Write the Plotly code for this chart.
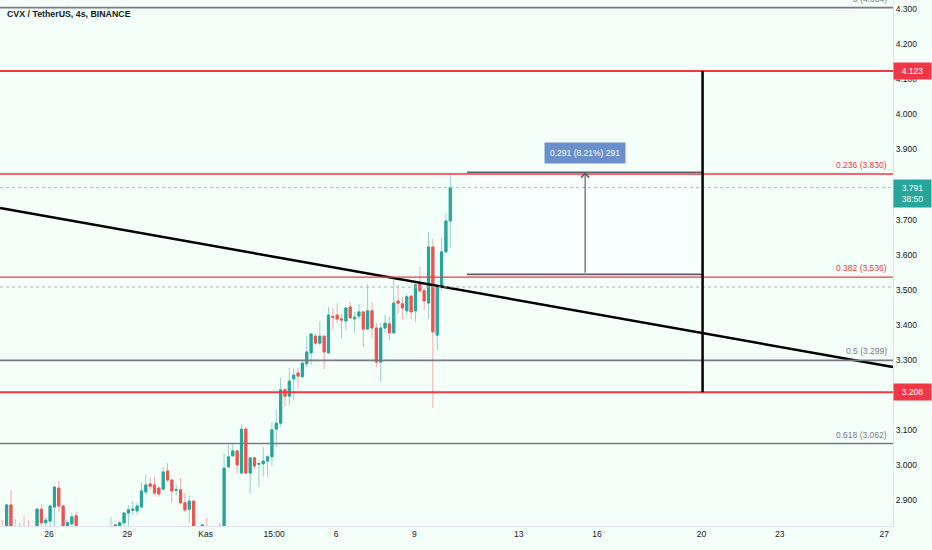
import pandas as pd
import plotly.graph_objects as go

# 4h candles, CVX/USDT
start_time = "2023-10-24 05:00"
opens = [2.82, 2.80, 2.887, 2.79, 2.81, 2.815, 2.81, 2.795, 2.80, 2.875,
         2.836, 2.841, 2.881, 2.935, 2.884, 2.827, 2.833, 2.856, 2.81, 2.79,
         2.78, 2.77, 2.785, 2.775, 2.79, 2.80, 2.815, 2.827, 2.836, 2.864,
         2.872, 2.870, 2.881, 2.924, 2.947, 2.944, 2.935, 2.932, 2.984, 2.958,
         2.929, 2.930, 2.893, 2.875, 2.898, 2.81, 2.815, 2.825, 2.81, 2.80,
         2.815, 2.805, 2.995, 3.027, 3.041, 2.978, 3.103, 2.978, 3.021, 3.003,
         3.004, 3.012, 3.024, 3.103, 3.120, 3.215, 3.197, 3.246, 3.263, 3.252,
         3.289, 3.320, 3.368, 3.348, 3.368, 3.320, 3.424, 3.428, 3.417, 3.411,
         3.451, 3.417, 3.425, 3.437, 3.388, 3.440, 3.391, 3.294, 3.391, 3.403,
         3.377, 3.468, 3.460, 3.440, 3.482, 3.440, 3.517, 3.497, 3.462, 3.622,
         3.371, 3.508, 3.608, 3.696]
highs = [2.844, 2.890, 2.930, 2.847, 2.835, 2.856, 2.844, 2.815, 2.878, 2.890,
         2.853, 2.886, 2.941, 2.955, 2.886, 2.841, 2.864, 2.867, 2.815, 2.80,
         2.795, 2.80, 2.80, 2.805, 2.815, 2.853, 2.832, 2.842, 2.867, 2.887,
         2.898, 2.893, 2.952, 2.972, 2.967, 2.967, 2.940, 2.995, 3.007, 2.960,
         2.944, 2.964, 2.921, 2.913, 2.900, 2.82, 2.832, 2.850, 2.82, 2.82,
         2.836, 3.035, 3.058, 3.064, 3.043, 3.115, 3.109, 3.023, 3.024, 3.010,
         3.052, 3.029, 3.123, 3.158, 3.249, 3.220, 3.277, 3.277, 3.277, 3.300,
         3.368, 3.377, 3.377, 3.411, 3.370, 3.451, 3.448, 3.462, 3.431, 3.451,
         3.465, 3.437, 3.460, 3.440, 3.517, 3.465, 3.405, 3.405, 3.428, 3.423,
         3.528, 3.514, 3.480, 3.488, 3.485, 3.522, 3.565, 3.505, 3.665, 3.645,
         3.514, 3.648, 3.719, 3.833]
lows = [2.79, 2.79, 2.79, 2.78, 2.79, 2.78, 2.78, 2.78, 2.79, 2.81,
        2.82, 2.82, 2.82, 2.867, 2.80, 2.81, 2.82, 2.80, 2.77, 2.76,
        2.75, 2.76, 2.76, 2.77, 2.78, 2.79, 2.80, 2.82, 2.830, 2.825,
        2.859, 2.859, 2.881, 2.915, 2.930, 2.915, 2.910, 2.930, 2.952, 2.893,
        2.915, 2.890, 2.867, 2.836, 2.80, 2.79, 2.80, 2.80, 2.79, 2.79,
        2.79, 2.80, 2.992, 3.024, 2.975, 2.975, 2.975, 2.918, 2.989, 2.938,
        2.967, 2.967, 2.999, 3.052, 3.109, 3.166, 3.172, 3.186, 3.220, 3.249,
        3.280, 3.286, 3.343, 3.343, 3.274, 3.320, 3.385, 3.405, 3.363, 3.385,
        3.417, 3.377, 3.417, 3.337, 3.385, 3.363, 3.280, 3.237, 3.377, 3.357,
        3.377, 3.431, 3.417, 3.428, 3.417, 3.408, 3.491, 3.442, 3.417, 3.163,
        3.328, 3.499, 3.605, 3.619]
closes = [2.80, 2.887, 2.80, 2.81, 2.80, 2.80, 2.795, 2.80, 2.875, 2.836,
          2.844, 2.884, 2.938, 2.884, 2.81, 2.836, 2.853, 2.81, 2.79, 2.78,
          2.77, 2.785, 2.775, 2.79, 2.80, 2.815, 2.830, 2.836, 2.864, 2.873,
          2.875, 2.884, 2.927, 2.944, 2.940, 2.921, 2.918, 2.981, 2.958, 2.927,
          2.931, 2.893, 2.873, 2.898, 2.81, 2.80, 2.830, 2.81, 2.80, 2.81,
          2.805, 2.992, 3.024, 3.041, 3.001, 3.103, 2.978, 3.021, 2.998, 3.005,
          3.012, 3.024, 3.101, 3.120, 3.215, 3.197, 3.240, 3.257, 3.254, 3.291,
          3.323, 3.374, 3.348, 3.368, 3.323, 3.428, 3.422, 3.417, 3.414, 3.448,
          3.420, 3.422, 3.437, 3.388, 3.440, 3.391, 3.294, 3.391, 3.405, 3.377,
          3.462, 3.462, 3.448, 3.480, 3.437, 3.514, 3.497, 3.468, 3.622, 3.380,
          3.508, 3.608, 3.696, 3.791]

# levels
fib_levels = [4.304, 3.830, 3.536, 3.299, 3.062]
fib_labels = ["0 (4.304)", "0.236 (3.830)", "0.382 (3.536)", "0.5 (3.299)", "0.618 (3.062)"]
fib_colors = ["#787b86", "#f23645", "#f23645", "#787b86", "#787b86"]
hlines = [4.123, 3.208]
last_price = 3.791
countdown = "38:50"
prev_close = 3.508

trend_x = ["2023-10-24 03:00", "2023-11-27 08:00"]
trend_y = [3.733, 3.280]

range_x = ["2023-11-11 00:20", "2023-11-20 01:00"]
range_y = [3.544, 3.835]
range_arrow_x = "2023-11-15 13:00"
range_text = "0.291 (8.21%) 291"
vline_x = "2023-11-20 01:00"

x_ticks = ["2023-10-26", "2023-10-29", "2023-11-01", "2023-11-03 15:00", "2023-11-06",
           "2023-11-09", "2023-11-13", "2023-11-16", "2023-11-20", "2023-11-23", "2023-11-27"]
x_labels = ["26", "29", "Kas", "15:00", "6", "9", "13", "16", "20", "23", "27"]
# 3.200 and 3.800 sit under the price tags, so they are not shown
y_ticks = [2.9, 3.0, 3.1, 3.3, 3.4, 3.5, 3.6, 3.7, 3.9, 4.0, 4.1, 4.2, 4.3]

bg = "#f4fffa"
up, down = "#26a69a", "#ef5350"
font = "Liberation Sans"

times = pd.date_range(start_time, periods=len(closes), freq="4h")
body_hi = [max(o, c) for o, c in zip(opens, closes)]
body_lo = [min(o, c) for o, c in zip(opens, closes)]

fig = go.Figure()
# wicks (lighter)
fig.add_trace(go.Candlestick(
    x=times, open=opens, high=highs, low=lows, close=closes,
    increasing=dict(line=dict(color="#93d3cc", width=1), fillcolor="#93d3cc"),
    decreasing=dict(line=dict(color="#f6a9a7", width=1), fillcolor="#f6a9a7"),
    hoverinfo="skip"))
# bodies
fig.add_trace(go.Candlestick(
    x=times, open=opens, high=body_hi, low=body_lo, close=closes,
    increasing=dict(line=dict(color=up, width=1), fillcolor=up),
    decreasing=dict(line=dict(color=down, width=1), fillcolor=down),
    hoverinfo="skip"))

fig.add_trace(go.Scatter(x=trend_x, y=trend_y, mode="lines",
                         line=dict(color="#000000", width=2.5), hoverinfo="skip"))

shapes = []
# price range box
shapes.append(dict(type="rect", xref="x", yref="y", x0=range_x[0], x1=range_x[1],
                   y0=range_y[0], y1=range_y[1], fillcolor="rgba(255,255,255,0.35)",
                   line=dict(width=0), layer="below"))
# dotted price lines
shapes.append(dict(type="line", xref="paper", yref="y", x0=0, x1=1, y0=last_price, y1=last_price,
                   line=dict(color="#7fcfc6", width=1, dash="dot")))
shapes.append(dict(type="line", xref="paper", yref="y", x0=0, x1=1, y0=prev_close, y1=prev_close,
                   line=dict(color="#a9acb4", width=1, dash="dot")))
for lv, col in zip(fib_levels, fib_colors):
    shapes.append(dict(type="line", xref="paper", yref="y", x0=0, x1=1, y0=lv, y1=lv,
                       line=dict(color=col, width=1.6 if col == "#787b86" else 1.4)))
for lv in hlines:
    shapes.append(dict(type="line", xref="paper", yref="y", x0=0, x1=1, y0=lv, y1=lv,
                       line=dict(color="#f23645", width=2)))
for yy in range_y:
    shapes.append(dict(type="line", xref="x", yref="y", x0=range_x[0], x1=range_x[1], y0=yy, y1=yy,
                       line=dict(color="#5d606b", width=1.6)))
shapes.append(dict(type="line", xref="x", yref="y", x0=vline_x, x1=vline_x, y0=hlines[1], y1=hlines[0],
                   line=dict(color="#000000", width=2.5)))

annotations = []
annotations.append(dict(xref="paper", yref="paper", x=0, y=1, xanchor="left", yanchor="top",
                        xshift=5, yshift=-7, text="CVX / TetherUS, 4s, BINANCE", showarrow=False,
                        font=dict(family=font, size=8.8, color="#131722", weight="bold")))
for lv, txt, col in zip(fib_levels, fib_labels, fib_colors):
    annotations.append(dict(xref="paper", yref="y", x=1, y=lv, xanchor="right", yanchor="bottom",
                            xshift=-4, yshift=2, text=txt, showarrow=False,
                            font=dict(family=font, size=8.5, color=col)))
# arrow of the range tool
annotations.append(dict(xref="x", yref="y", axref="x", ayref="y", x=range_arrow_x, y=range_y[1],
                        ax=range_arrow_x, ay=range_y[0], text="", showarrow=True, arrowhead=4,
                        arrowsize=1.3, arrowwidth=1.2, arrowcolor="#5d606b", standoff=0))
annotations.append(dict(xref="x", yref="y", x=range_arrow_x, y=range_y[1], yanchor="bottom", yshift=8,
                        text=range_text, showarrow=False, bgcolor="#6a8fcb", borderpad=5,
                        font=dict(family=font, size=8.5, color="#ffffff")))
# axis price tags
for lv in hlines:
    annotations.append(dict(xref="paper", yref="y", x=1, y=lv, xanchor="left", yanchor="middle",
                            text=f"{lv:.3f}", showarrow=False, bgcolor="#f23645", width=31,
                            borderpad=3, font=dict(family=font, size=8.5, color="#ffffff")))
annotations.append(dict(xref="paper", yref="y", x=1, y=last_price, xanchor="left", yanchor="middle",
                        yshift=-6, text=f"{last_price:.3f}<br>{countdown}", showarrow=False,
                        bgcolor="#26a69a", width=31, borderpad=3,
                        font=dict(family=font, size=8.5, color="#ffffff")))

fig.update_layout(
    width=932, height=550, margin=dict(l=0, r=39, t=0, b=24),
    paper_bgcolor=bg, plot_bgcolor=bg, showlegend=False,
    shapes=shapes, annotations=annotations,
    font=dict(family=font, size=8.5, color="#131722"),
    xaxis=dict(type="date", range=["2023-10-24 02:56", "2023-11-27 08:06"],
               rangeslider=dict(visible=False), showgrid=False, zeroline=False,
               tickvals=x_ticks, ticktext=x_labels, ticks="",
               showline=True, linecolor="#e0e3eb", linewidth=1,
               tickfont=dict(family=font, size=8.5, color="#131722")),
    yaxis=dict(side="right", range=[2.827, 4.3256], showgrid=False, zeroline=False,
               tickvals=y_ticks, tickformat=".3f", ticks="",
               showline=True, linecolor="#e0e3eb", linewidth=1,
               tickfont=dict(family=font, size=8.5, color="#131722")),
)

# the page's default body margin would shift the chart by 8px
fig.write_html("out.html", config={"displayModeBar": False},
               post_script="document.body.style.margin='0px';")
